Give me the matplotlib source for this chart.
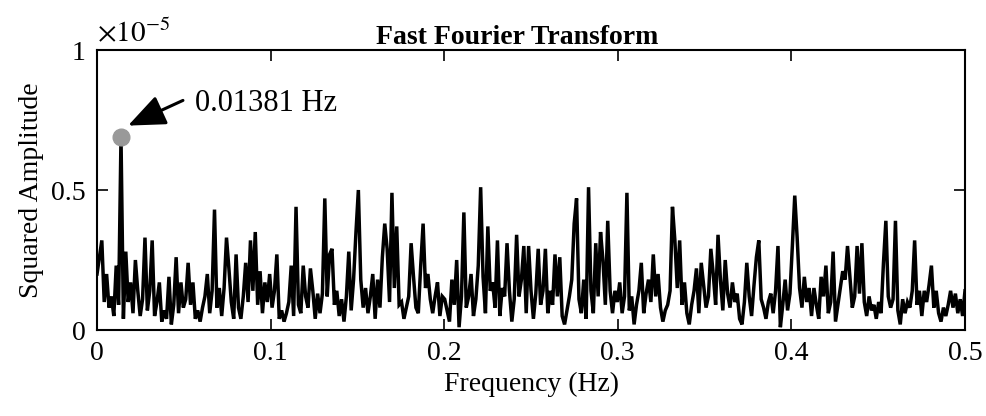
import numpy as np
import matplotlib
matplotlib.use("Agg")
import matplotlib.pyplot as plt

plt.rcParams.update({
    "font.family": "Liberation Serif",
    "font.size": 19,
    "mathtext.fontset": "stix",
})

# squared amplitude of the spectrum, in units of 1e-5
# frequency bins run from 0 to 0.5 Hz (363 bins, step 0.5/362 Hz)
amp = [
    0.20, 0.26, 0.32, 0.10, 0.20, 0.08, 0.12, 0.05, 0.23, 0.09, 0.69, 0.04,
    0.28, 0.10, 0.17, 0.06, 0.25, 0.14, 0.05, 0.11, 0.33, 0.07, 0.14, 0.32,
    0.05, 0.10, 0.17, 0.03, 0.07, 0.04, 0.19, 0.02, 0.09, 0.26, 0.06, 0.17,
    0.08, 0.11, 0.24, 0.09, 0.17, 0.04, 0.07, 0.03, 0.08, 0.12, 0.20, 0.06,
    0.14, 0.43, 0.08, 0.15, 0.05, 0.15, 0.33, 0.22, 0.10, 0.04, 0.27, 0.08,
    0.04, 0.12, 0.24, 0.10, 0.32, 0.14, 0.35, 0.09, 0.21, 0.06, 0.17, 0.10,
    0.20, 0.08, 0.14, 0.27, 0.04, 0.07, 0.03, 0.06, 0.10, 0.23, 0.05, 0.44,
    0.09, 0.06, 0.23, 0.12, 0.08, 0.22, 0.14, 0.04, 0.13, 0.06, 0.13, 0.47,
    0.12, 0.27, 0.29, 0.09, 0.14, 0.05, 0.11, 0.03, 0.12, 0.28, 0.07, 0.18,
    0.35, 0.50, 0.18, 0.08, 0.15, 0.06, 0.12, 0.20, 0.04, 0.18, 0.08, 0.26,
    0.38, 0.29, 0.10, 0.49, 0.15, 0.37, 0.09, 0.10, 0.04, 0.08, 0.12, 0.31,
    0.19, 0.08, 0.06, 0.23, 0.38, 0.15, 0.20, 0.11, 0.06, 0.12, 0.17, 0.05,
    0.12, 0.11, 0.07, 0.03, 0.18, 0.09, 0.25, 0.01, 0.12, 0.42, 0.08, 0.12,
    0.20, 0.05, 0.11, 0.23, 0.51, 0.19, 0.06, 0.37, 0.14, 0.17, 0.08, 0.32,
    0.05, 0.15, 0.12, 0.31, 0.14, 0.03, 0.11, 0.34, 0.12, 0.18, 0.30, 0.06,
    0.30, 0.14, 0.04, 0.13, 0.29, 0.09, 0.14, 0.29, 0.06, 0.14, 0.09, 0.27,
    0.12, 0.26, 0.05, 0.02, 0.07, 0.12, 0.18, 0.38, 0.47, 0.11, 0.06, 0.18,
    0.04, 0.51, 0.14, 0.06, 0.31, 0.12, 0.35, 0.25, 0.09, 0.39, 0.14, 0.06,
    0.14, 0.10, 0.17, 0.06, 0.12, 0.49, 0.07, 0.12, 0.02, 0.09, 0.14, 0.24,
    0.06, 0.13, 0.18, 0.10, 0.27, 0.12, 0.20, 0.08, 0.03, 0.07, 0.09, 0.14,
    0.44, 0.32, 0.15, 0.32, 0.09, 0.17, 0.06, 0.02, 0.09, 0.14, 0.22, 0.06,
    0.24, 0.16, 0.08, 0.12, 0.29, 0.20, 0.09, 0.34, 0.18, 0.07, 0.25, 0.13,
    0.08, 0.17, 0.10, 0.13, 0.04, 0.02, 0.10, 0.24, 0.12, 0.05, 0.16, 0.26,
    0.32, 0.11, 0.08, 0.04, 0.10, 0.13, 0.06, 0.14, 0.30, 0.01, 0.09, 0.18,
    0.07, 0.13, 0.30, 0.48, 0.33, 0.15, 0.08, 0.19, 0.10, 0.15, 0.05, 0.15,
    0.09, 0.04, 0.19, 0.12, 0.23, 0.06, 0.10, 0.28, 0.03, 0.09, 0.15, 0.21,
    0.18, 0.30, 0.19, 0.08, 0.12, 0.30, 0.13, 0.31, 0.10, 0.05, 0.12, 0.07,
    0.09, 0.04, 0.10, 0.06, 0.24, 0.39, 0.12, 0.08, 0.11, 0.39, 0.07, 0.02,
    0.11, 0.06, 0.10, 0.08, 0.14, 0.32, 0.09, 0.14, 0.05, 0.14, 0.10, 0.16,
    0.23, 0.08, 0.14, 0.06, 0.03, 0.08, 0.05, 0.09, 0.14, 0.08, 0.13, 0.06,
    0.11, 0.05, 0.14,
]
f_max = 0.5
peak_idx = 10
peak_label = "0.01381 Hz"

amp = np.array(amp)
freq = np.linspace(0, f_max, len(amp))

fig = plt.figure(figsize=(9.87, 4.16), dpi=100)
ax = fig.add_axes([0.0983, 0.2067, 0.8794, 0.6731])

ax.plot(freq, amp, color="black", linewidth=2.5, solid_joinstyle="miter")
ax.plot(freq[peak_idx], amp[peak_idx], "o", color="#999999", markersize=12, zorder=3)

# arrow then label, like the matlab textarrow
ax.annotate("", xy=(0.0179, 0.73), xytext=(0.0495, 0.82),
            arrowprops=dict(arrowstyle="-|>,head_length=1.2,head_width=0.5",
                            color="black", lw=2.2, shrinkA=0, shrinkB=0,
                            mutation_scale=19))
ax.text(0.0565, 0.81, peak_label, va="center", ha="left", fontsize=22)

ax.set_xlim(0, f_max)
ax.set_ylim(0, 1)
ax.set_xticks([0, 0.1, 0.2, 0.3, 0.4, 0.5])
ax.set_xticklabels(["0", "0.1", "0.2", "0.3", "0.4", "0.5"])
ax.set_yticks([0, 0.5, 1])
ax.set_yticklabels(["0", "0.5", "1"])
ax.tick_params(direction="in", top=True, right=True, length=8, width=1.2, pad=8,
               labelsize=20)
for s in ax.spines.values():
    s.set_linewidth(1.5)

ax.set_xlabel("Frequency (Hz)", labelpad=4, fontsize=20)
ax.set_ylabel("Squared Amplitude", labelpad=5, fontsize=20)
ax.set_title("Fast Fourier Transform", fontweight="bold", fontsize=20, pad=4, x=0.484)
ax.text(0.0, 1.01, r"$\times 10^{-5}$", transform=ax.transAxes, ha="left", va="bottom",
        fontsize=21)

fig.savefig("out.png", dpi=100)
